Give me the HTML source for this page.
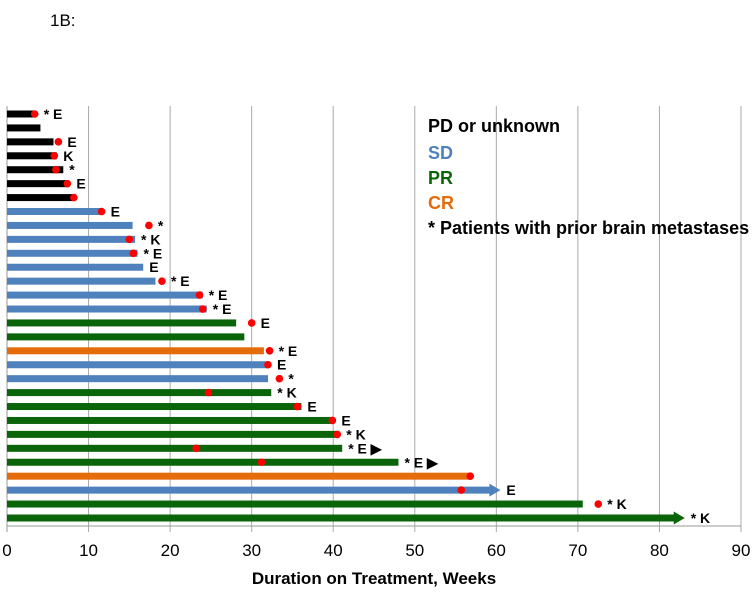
<!DOCTYPE html>
<html><head><meta charset="utf-8"><style>
body{margin:0;background:#fff;}
svg{display:block;font-family:"Liberation Sans",sans-serif;}
</style></head><body>
<svg id="chart" width="756" height="594">
<text x="50" y="26" font-size="17" fill="#000">1B:</text>
<g id="grid"></g><g id="bars"></g><g id="labels"></g>
<g font-weight="bold" font-size="18">
<text x="428" y="132" fill="#000">PD or unknown</text>
<text x="428" y="159" fill="#4f81bd">SD</text>
<text x="428" y="184" fill="#0a650a">PR</text>
<text x="428" y="209" fill="#e46c0a">CR</text>
<text x="428" y="234" fill="#000">* Patients with prior brain metastases</text>
</g>
<text x="374" y="584" text-anchor="middle" font-size="17" font-weight="bold">Duration on Treatment, Weeks</text>
</svg>
<script>
const responses=["PD","PD","PD","PD","PD","PD","PD","SD","SD","SD","SD","SD","SD","SD","SD","PR","PR","CR","SD","SD","PR","PR","PR","PR","PR","PR","CR","SD","PR","PR"];
const durations=[3.4,4.1,5.7,6.1,6.9,7.5,8.2,11.4,15.4,15.7,16,16.7,18.2,24,24.5,28.1,29.1,31.5,32,32,32.4,36.1,39.9,40.5,41.1,48,56.9,60.5,70.6,83.1];
const dots=[3.4,null,6.3,5.8,6.0,7.4,8.2,11.6,17.4,15,15.5,null,19,23.6,24,30,null,32.2,32,33.4,24.7,35.6,39.9,40.5,23.2,31.2,56.8,55.7,72.5,null];
const notes=["* E","","E","K","*","E","","E","*","* K","* E","E","* E","* E","* E","E","","* E","E","*","* K","E","E","* K","* E ▶","* E ▶","","E","* K","* K"];
const ongoing=[0,0,0,0,0,0,0,0,0,0,0,0,0,0,0,0,0,0,0,0,0,0,0,0,0,0,0,1,0,1];
const xTicks=[0,10,20,30,40,50,60,70,80,90];
const colors={PD:"#000",SD:"#4f81bd",PR:"#0a650a",CR:"#e46c0a"};
const NS="http://www.w3.org/2000/svg";
const xs=v=>7+v*(734/90);
const ys=i=>114+i*13.93;
const plotTop=106,axisY=526;
function mk(t,a,p){const e=document.createElementNS(NS,t);for(const k in a)e.setAttribute(k,a[k]);p.appendChild(e);return e;}
const g=document.getElementById('grid'),b=document.getElementById('bars'),l=document.getElementById('labels');
xTicks.forEach(t=>{
 const gl=mk('line',{x1:xs(t),x2:xs(t),y1:plotTop,y2:axisY+6,stroke:t===0?'#999':'#aaa','stroke-width':1},g);
 
 
 const tx=mk('text',{x:xs(t),y:556,'text-anchor':'middle','font-size':17,fill:'#000'},g);
 tx.textContent=t;
 
 
});
const ax=mk('line',{x1:xs(0),x2:xs(90),y1:axisY,y2:axisY,stroke:'#999','stroke-width':1},g);


durations.forEach((d,i)=>{
 const c=colors[responses[i]],yy=ys(i);
 let bar;
 if(ongoing[i]){
  const tip=xs(d),bx=tip-11;
  bar=mk('path',{d:`M${xs(0)} ${yy-3.5}H${bx}V${yy-6.5}L${tip} ${yy}L${bx} ${yy+6.5}V${yy+3.5}H${xs(0)}Z`,fill:c},b);
 } else {
  bar=mk('rect',{x:xs(0),y:yy-3.5,width:xs(d)-xs(0),height:7,fill:c},b);
 }
 
 
 let end=xs(d);
 if(dots[i]!==null){
  const dt=mk('circle',{cx:xs(dots[i]),cy:yy,r:3.8,fill:'#f00'},b);
  
  
  end=Math.max(end,xs(dots[i])+3);
 }
 if(notes[i]){
  const t=mk('text',{x:end+6,y:yy+5,'font-size':14,'font-weight':'bold',fill:'#000'},l);
  t.textContent=notes[i];
  
  
 }
});
</script>
</body></html>
